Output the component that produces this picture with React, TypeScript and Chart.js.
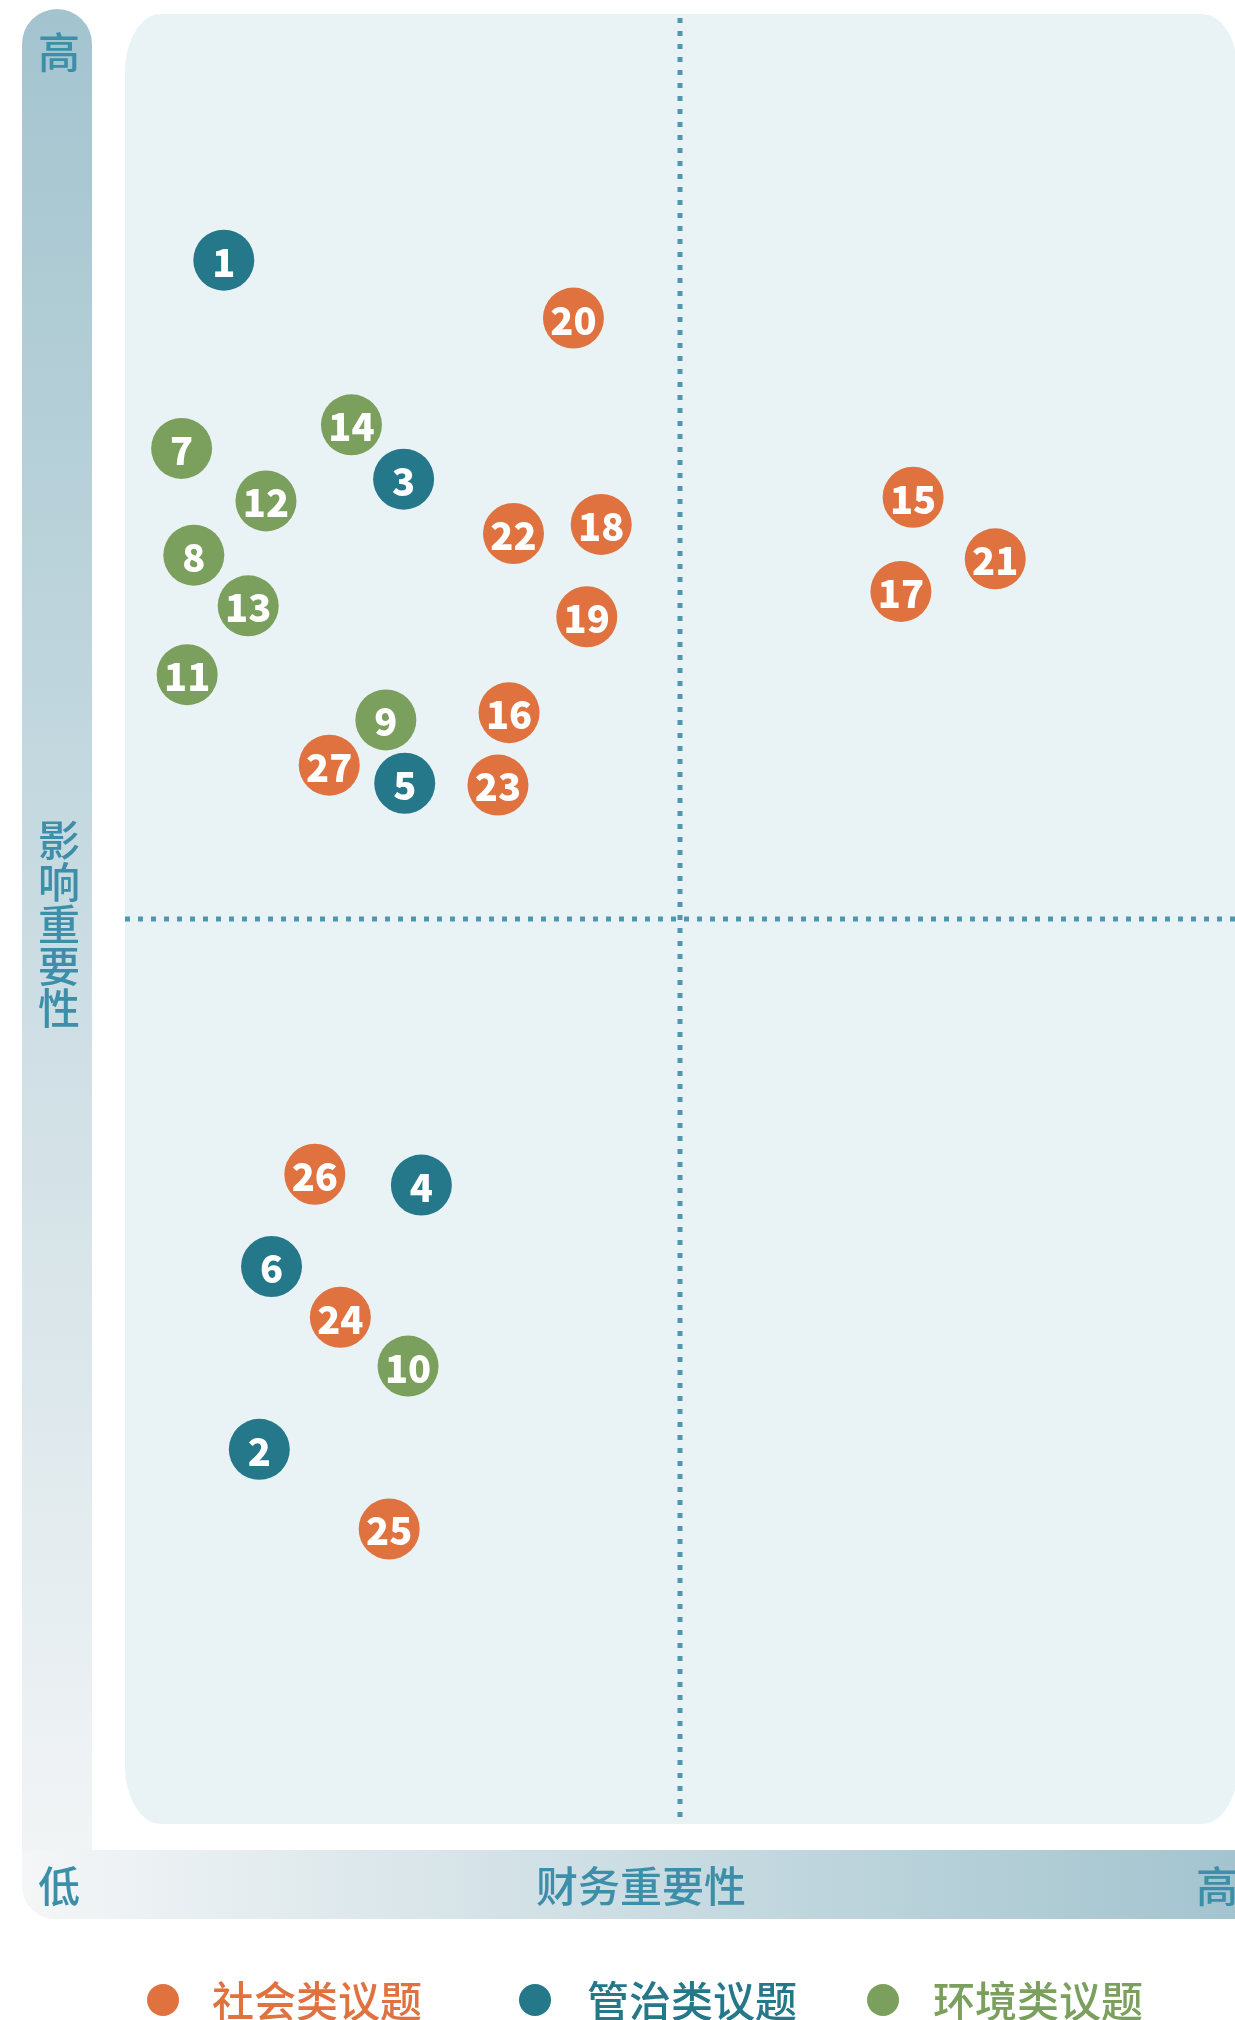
import React, { useEffect, useRef } from "react";
import { Chart, registerables } from "chart.js";

Chart.register(...registerables);

// ---- data ----
const socialLabels = ["15", "16", "17", "18", "19", "20", "21", "22", "23", "24", "25", "26", "27"];
const socialX = [7.1, 3.46, 6.99, 4.29, 4.16, 4.04, 7.84, 3.5, 3.36, 1.94, 2.38, 1.71, 1.84];
const socialY = [7.33, 6.14, 6.81, 7.18, 6.67, 8.32, 6.99, 7.13, 5.74, 2.8, 1.63, 3.59, 5.85];

const govLabels = ["1", "2", "3", "4", "5", "6"];
const govX = [0.89, 1.21, 2.51, 2.67, 2.52, 1.32];
const govY = [8.64, 2.07, 7.43, 3.53, 5.75, 3.08];

const envLabels = ["7", "8", "9", "10", "11", "12", "13", "14"];
const envX = [0.51, 0.62, 2.35, 2.55, 0.56, 1.27, 1.11, 2.04];
const envY = [7.6, 7.01, 6.1, 2.53, 6.35, 7.31, 6.73, 7.73];

const seriesNames = ["社会类议题", "管治类议题", "环境类议题"];
const seriesColors = ["#e07240", "#24788a", "#7ba05e"];

const axisLow = "低";
const axisHigh = "高";
const xAxisTitle = "财务重要性";
const yAxisTitle = "影响重要性";
const divider = 5;

const FONT = '"Noto Sans CJK SC", "Noto Sans", sans-serif';
const AXIS_COLOR = "#3d8ea8";

function toPoints(xs: number[], ys: number[], labels: string[]) {
  return xs.map((x, i) => ({ x, y: ys[i], label: labels[i] }));
}

function roundedPanel(ctx: CanvasRenderingContext2D, l: number, t: number, r: number, b: number, rx: number, ry: number) {
  const k = 0.5523;
  ctx.beginPath();
  ctx.moveTo(l + rx, t);
  ctx.lineTo(r - rx, t);
  ctx.bezierCurveTo(r - rx + rx * k, t, r, t + ry - ry * k, r, t + ry);
  ctx.lineTo(r, b - ry);
  ctx.bezierCurveTo(r, b - ry + ry * k, r - rx + rx * k, b, r - rx, b);
  ctx.lineTo(l + rx, b);
  ctx.bezierCurveTo(l + rx - rx * k, b, l, b - ry + ry * k, l, b - ry);
  ctx.lineTo(l, t + ry);
  ctx.bezierCurveTo(l, t + ry - ry * k, l + rx - rx * k, t, l + rx, t);
  ctx.closePath();
}

const decorPlugin = {
  id: "decor",
  beforeDraw(chart: any) {
    const ctx: CanvasRenderingContext2D = chart.ctx;
    const ca = chart.chartArea;
    ctx.save();
    // vertical axis bar
    const barL = 22, barR = 92, barT = 9, xBarT = 1850, xBarB = 1919;
    const gy = ctx.createLinearGradient(0, barT, 0, xBarB);
    gy.addColorStop(0, "#a3c4cf");
    gy.addColorStop(1, "#f4f6f7");
    ctx.fillStyle = gy;
    const rTop = (barR - barL) / 2;
    ctx.beginPath();
    ctx.moveTo(barL, xBarT + 1);
    ctx.lineTo(barL, barT + rTop);
    ctx.arc(barL + rTop, barT + rTop, rTop, Math.PI, 0);
    ctx.lineTo(barR, xBarT + 1);
    ctx.closePath();
    ctx.fill();
    // horizontal axis bar
    const gx = ctx.createLinearGradient(barL, 0, 1235, 0);
    gx.addColorStop(0, "#f4f6f7");
    gx.addColorStop(1, "#a3c4cf");
    ctx.fillStyle = gx;
    const rb = 33;
    ctx.beginPath();
    ctx.moveTo(barL, xBarT);
    ctx.lineTo(1240, xBarT);
    ctx.lineTo(1240, xBarB);
    ctx.lineTo(barL + rb, xBarB);
    ctx.arcTo(barL, xBarB, barL, xBarB - rb, rb);
    ctx.closePath();
    ctx.fill();
    // panel
    ctx.fillStyle = "#e9f3f6";
    roundedPanel(ctx, ca.left, ca.top, ca.right + 3, ca.bottom, 36, 58);
    ctx.fill();
    ctx.restore();
  },
  beforeDatasetsDraw(chart: any) {
    const ctx: CanvasRenderingContext2D = chart.ctx;
    const ca = chart.chartArea;
    const xs = chart.scales.x, ys = chart.scales.y;
    const px = Math.round(xs.getPixelForValue(divider));
    const py = Math.round(ys.getPixelForValue(divider));
    ctx.save();
    ctx.strokeStyle = "#4f97ae";
    ctx.lineWidth = 5;
    ctx.setLineDash([5, 8]);
    ctx.beginPath();
    ctx.moveTo(ca.left, py);
    ctx.lineTo(ca.right, py);
    ctx.stroke();
    ctx.beginPath();
    ctx.moveTo(px, ca.top + 4);
    ctx.lineTo(px, ca.bottom);
    ctx.stroke();
    ctx.restore();
  },
  afterDatasetsDraw(chart: any) {
    const ctx: CanvasRenderingContext2D = chart.ctx;
    ctx.save();
    ctx.fillStyle = "#ffffff";
    ctx.font = `900 38px ${FONT}`;
    ctx.textAlign = "center";
    ctx.textBaseline = "middle";
    chart.data.datasets.forEach((ds: any, di: number) => {
      const meta = chart.getDatasetMeta(di);
      meta.data.forEach((el: any, i: number) => {
        ctx.fillText(ds.data[i].label, el.x, el.y + 2);
      });
    });
    ctx.restore();
  },
  afterDraw(chart: any) {
    const ctx: CanvasRenderingContext2D = chart.ctx;
    ctx.save();
    ctx.textBaseline = "middle";
    ctx.textAlign = "center";
    ctx.fillStyle = AXIS_COLOR;
    ctx.font = `500 42px ${FONT}`;
    ctx.fillText(axisHigh, 59, 52);
    ctx.fillText(axisLow, 59, 1886);
    ctx.fillText(xAxisTitle, 641, 1886);
    ctx.textAlign = "left";
    ctx.fillText(axisHigh, 1196, 1886);
    ctx.textAlign = "center";
    const chars = Array.from(yAxisTitle);
    chars.forEach((c, i) => ctx.fillText(c, 59, 840 + i * 42));
    // legend
    const dotX = [163, 535, 883];
    const textX = [212, 587, 933];
    const ly = 2000;
    ctx.textAlign = "left";
    ctx.font = `500 42px ${FONT}`;
    seriesNames.forEach((n, i) => {
      ctx.fillStyle = seriesColors[i];
      ctx.beginPath();
      ctx.arc(dotX[i], ly, 16, 0, Math.PI * 2);
      ctx.fill();
      ctx.fillText(n, textX[i], ly + 1);
    });
    ctx.restore();
  },
};

export default function App() {
  const ref = useRef<HTMLCanvasElement | null>(null);
  useEffect(() => {
    document.body.style.margin = "0";
    const canvas = ref.current!;
    const chart = new Chart(canvas, {
      type: "scatter",
      data: {
        datasets: [
          { label: seriesNames[0], data: toPoints(socialX, socialY, socialLabels), backgroundColor: seriesColors[0], borderWidth: 0 },
          { label: seriesNames[1], data: toPoints(govX, govY, govLabels), backgroundColor: seriesColors[1], borderWidth: 0 },
          { label: seriesNames[2], data: toPoints(envX, envY, envLabels), backgroundColor: seriesColors[2], borderWidth: 0 },
        ] as any,
      },
      options: {
        animation: false,
        responsive: false,
        devicePixelRatio: 1,
        layout: { autoPadding: false, padding: { left: 125, top: 14, right: 0, bottom: 196 } },
        elements: { point: { radius: 30.5, hoverRadius: 30.5, borderWidth: 0 } },
        scales: {
          x: { type: "linear", min: 0, max: 10, display: false },
          y: { type: "linear", min: 0, max: 10, display: false },
        },
        plugins: { legend: { display: false }, tooltip: { enabled: false } },
      },
      plugins: [decorPlugin],
    });
    (document as any).fonts?.load?.(`900 38px "Noto Sans CJK SC"`).then(() => chart.draw()).catch(() => {});
    return () => chart.destroy();
  }, []);
  return <canvas ref={ref} width={1235} height={2020} style={{ display: "block" }} />;
}
